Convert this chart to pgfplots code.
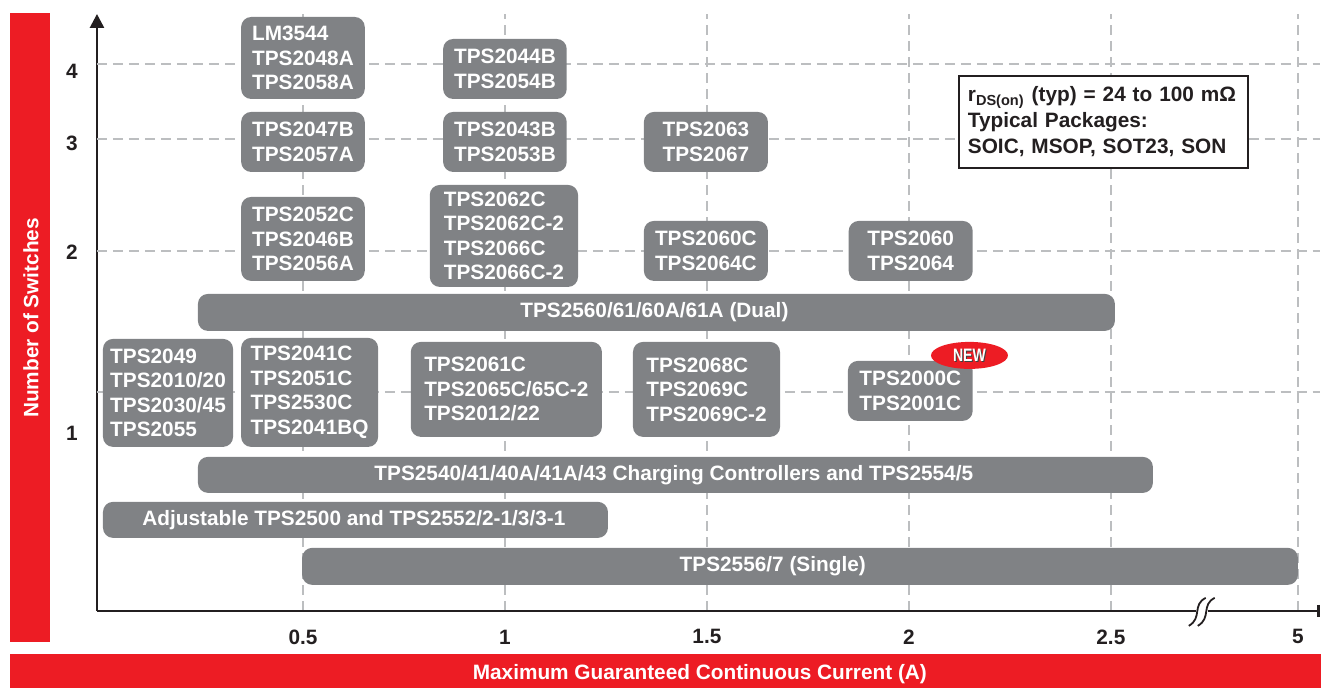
\documentclass[border=0pt]{standalone}
\usepackage{fontspec}
\setmainfont{Liberation Sans}
\usepackage{pgfplots}
\pgfplotsset{compat=1.18}
\usetikzlibrary{arrows.meta,shapes.geometric}

\definecolor{tired}{HTML}{ED1C24}
\definecolor{boxgray}{HTML}{808285}
\definecolor{gridgray}{HTML}{BCBEC0}
\definecolor{axisdark}{HTML}{231F20}

\newcommand{\lbl}{\fontsize{10.4}{12.25}\selectfont\bfseries}

\begin{document}
\begin{tikzpicture}[
  prodbox/.style={fill=boxgray, draw=none, rounded corners=5pt},
  boxtext/.style={text=white, font=\lbl, align=left, inner sep=0pt},
]
% frame in pixel units of the reference (origin = axis corner)
\begin{scope}[x=0.5pt, y=-0.5pt, shift={(-97,-611)}]
  \path[use as bounding box] (0,0) rectangle (1321,688);
  \fill[tired] (10,13) rectangle (50,642);
  \fill[tired] (10,654) rectangle (1321,688);
  \node[rotate=90, text=white, font=\lbl] at (31,318) {Number of Switches};
  \node[text=white, font=\lbl] at (700,674) {Maximum Guaranteed Continuous Current (A)};
\end{scope}

\begin{axis}[
  at={(0,0)}, anchor=south west, scale only axis,
  width=611.5pt, height=298.5pt,
  xmin=-0.0099, xmax=3.017, ymin=0, ymax=597,
  axis lines=left,
  axis line style={line width=1.3pt, axisdark},
  x axis line style={-{Bar[width=6pt, line width=1.3pt]}},
  y axis line style={-{Triangle[width=7pt, length=7pt]}},
  major tick length=0pt,
  xtick={0.5,1,1.5,2,2.5,2.963},
  xticklabels={0.5,1,1.5,2,2.5,5},
  ytick={178,359,468,540},
  yticklabels={1,2,3,4},
  extra y ticks={219,360,472,547},
  extra y tick labels={},
  extra y tick style={grid=major},
  xmajorgrids=true,
  major grid style={gridgray, line width=1pt, dash pattern=on 5pt off 3pt},
  tick label style={font=\lbl, text=axisdark},
  xticklabel style={anchor=center, yshift=-13pt},
  yticklabel style={anchor=center, xshift=-12.5pt},
  clip=false,
]
% range bars: (x from, x to) in A, vertical band in chart units
\addplot[prodbox] coordinates {(0.347,594) (0.653,594) (0.653,512) (0.347,512)} --cycle;
\addplot[prodbox] coordinates {(0.847,572) (1.153,572) (1.153,512) (0.847,512)} --cycle;
\addplot[prodbox] coordinates {(0.347,499) (0.653,499) (0.653,439) (0.347,439)} --cycle;
\addplot[prodbox] coordinates {(0.847,499) (1.153,499) (1.153,439) (0.847,439)} --cycle;
\addplot[prodbox] coordinates {(1.344,499) (1.651,499) (1.651,439) (1.344,439)} --cycle;
\addplot[prodbox] coordinates {(0.347,414) (0.653,414) (0.653,330) (0.347,330)} --cycle;
\addplot[prodbox] coordinates {(0.814,426) (1.181,426) (1.181,324) (0.814,324)} --cycle;
\addplot[prodbox] coordinates {(1.344,390) (1.651,390) (1.651,330) (1.344,330)} --cycle;
\addplot[prodbox] coordinates {(1.851,390) (2.158,390) (2.158,330) (1.851,330)} --cycle;
\addplot[prodbox] coordinates {(0.240,317) (2.510,317) (2.510,280) (0.240,280)} --cycle;
\addplot[prodbox] coordinates {(0.005,272) (0.327,272) (0.327,164) (0.005,164)} --cycle;
\addplot[prodbox] coordinates {(0.347,273) (0.686,273) (0.686,164) (0.347,164)} --cycle;
\addplot[prodbox] coordinates {(0.767,269) (1.240,269) (1.240,174) (0.767,174)} --cycle;
\addplot[prodbox] coordinates {(1.317,269) (1.681,269) (1.681,174) (1.317,174)} --cycle;
\addplot[prodbox] coordinates {(1.849,250) (2.158,250) (2.158,190) (1.849,190)} --cycle;
\addplot[prodbox] coordinates {(0.240,154) (2.604,154) (2.604,118) (0.240,118)} --cycle;
\addplot[prodbox] coordinates {(0.005,109) (1.255,109) (1.255,73) (0.005,73)} --cycle;
\addplot[prodbox] coordinates {(0.498,63) (2.963,63) (2.963,26) (0.498,26)} --cycle;

\node[boxtext] at (axis cs:0.5,553) {LM3544\\TPS2048A\\TPS2058A};
\node[boxtext] at (axis cs:1.0,542) {TPS2044B\\TPS2054B};
\node[boxtext] at (axis cs:0.5,469) {TPS2047B\\TPS2057A};
\node[boxtext] at (axis cs:1.0,469) {TPS2043B\\TPS2053B};
\node[boxtext] at (axis cs:1.4975,469) {TPS2063\\TPS2067};
\node[boxtext] at (axis cs:0.5,372) {TPS2052C\\TPS2046B\\TPS2056A};
\node[boxtext] at (axis cs:0.9975,375) {TPS2062C\\TPS2062C-2\\TPS2066C\\TPS2066C-2};
\node[boxtext] at (axis cs:1.4975,360) {TPS2060C\\TPS2064C};
\node[boxtext] at (axis cs:2.0045,360) {TPS2060\\TPS2064};
\node[boxtext] at (axis cs:1.370,298.5) {TPS2560/61/60A/61A (Dual)};
\node[boxtext] at (axis cs:0.166,218) {TPS2049\\TPS2010/20\\TPS2030/45\\TPS2055};
\node[boxtext] at (axis cs:0.5165,218.5) {TPS2041C\\TPS2051C\\TPS2530C\\TPS2041BQ};
\node[boxtext] at (axis cs:1.0035,221.5) {TPS2061C\\TPS2065C/65C-2\\TPS2012/22};
\node[boxtext] at (axis cs:1.499,221.5) {TPS2068C\\TPS2069C\\TPS2069C-2};
\node[boxtext] at (axis cs:2.0035,220) {TPS2000C\\TPS2001C};
\node[boxtext] at (axis cs:1.418,136) {TPS2540/41/40A/41A/43 Charging Controllers and TPS2554/5};
\node[boxtext] at (axis cs:0.626,91) {Adjustable TPS2500 and TPS2552/2-1/3/3-1};
\node[boxtext] at (axis cs:1.663,44.5) {TPS2556/7 (Single)};

% NEW badge
\node[ellipse, fill=tired, minimum width=38.5pt, minimum height=13.5pt, inner sep=0pt]
  at (axis cs:2.150,255.5) {};
\node[text=black!75, font=\fontsize{9}{9}\selectfont\bfseries] at ([xshift=0.5pt,yshift=-0.6pt]axis cs:2.150,255.5) {\scalebox{0.78}[1]{NEW}};
\node[text=white, font=\fontsize{9}{9}\selectfont\bfseries] at (axis cs:2.150,255.5) {\scalebox{0.78}[1]{NEW}};

% info box
\node[draw=axisdark, fill=white, line width=0.8pt, inner sep=4.5pt,
      text width=135.5pt, minimum height=46pt, align=left, text=axisdark,
      font=\fontsize{10.4}{13}\selectfont\bfseries]
  at (axis cs:2.4815,489)
  {r\textsubscript{DS(on)} (typ) = 24 to 100 mΩ\\Typical Packages:\\SOIC, MSOP, SOT23, SON};
\end{axis}

% axis break on the current axis
\begin{scope}[x=0.5pt, y=-0.5pt, shift={(-97,-611)}]
  \fill[white] (1196,605) rectangle (1208,617);
  \draw[axisdark, line width=0.9pt] (1189,626) .. controls (1203,618) and (1192,605) .. (1206,598);
  \draw[axisdark, line width=0.9pt] (1198,626) .. controls (1212,618) and (1201,605) .. (1215,598);
\end{scope}
\end{tikzpicture}
\end{document}
